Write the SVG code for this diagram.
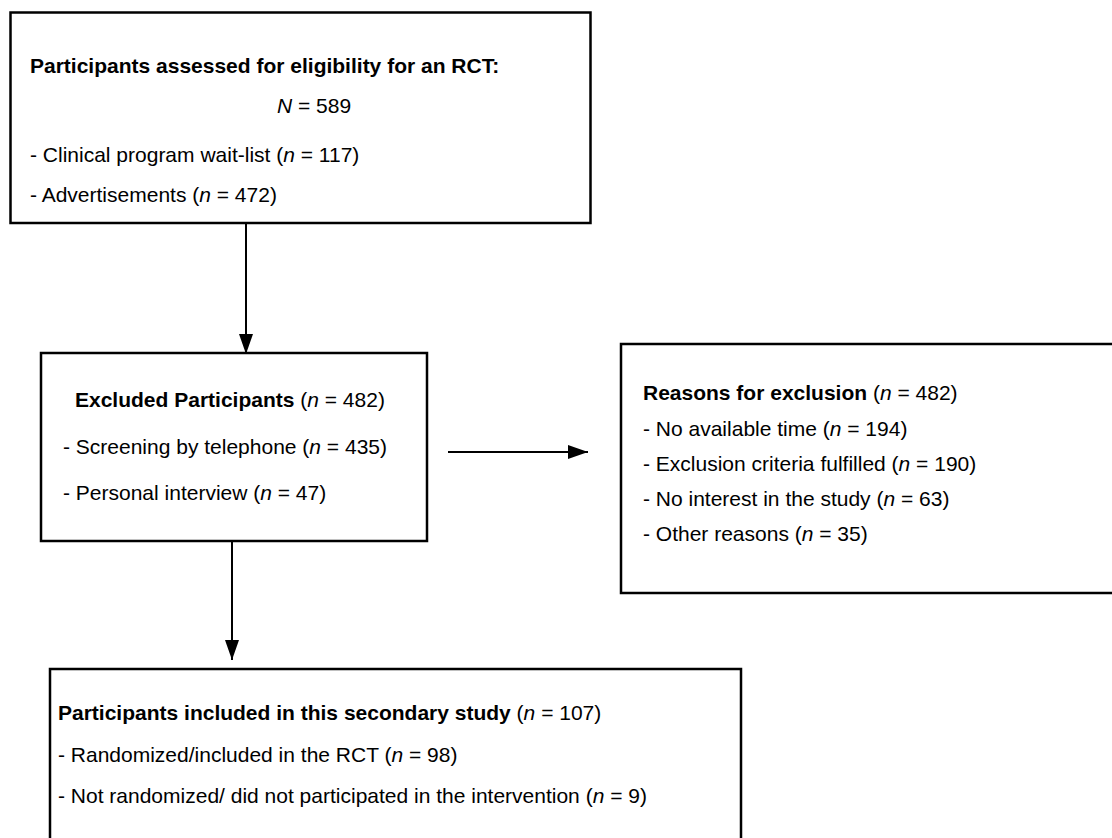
<svg xmlns="http://www.w3.org/2000/svg" width="1112" height="838" viewBox="0 0 1112 838">
<defs>
<style>
.box{fill:#fff;stroke:#000;stroke-width:2.5}
text{font-family:"Liberation Sans",Arial,sans-serif;font-size:21px;fill:#000}
.b{font-weight:bold}
.i{font-style:italic}
.ln{stroke:#000;stroke-width:2;fill:none}
</style>
<marker id="ah" markerWidth="20" markerHeight="14" refX="20" refY="7" orient="auto" markerUnits="userSpaceOnUse">
<path d="M0,0 L20,7 L0,14 Z" fill="#000"/>
</marker>
</defs>
<rect width="1112" height="838" fill="#fff"/>
<g id="connectors">
<line class="ln" x1="246" y1="224" x2="246" y2="354" marker-end="url(#ah)"/>
<line class="ln" x1="448" y1="452" x2="588" y2="452" marker-end="url(#ah)"/>
<line class="ln" x1="232" y1="542" x2="232" y2="660" marker-end="url(#ah)"/>
</g>
<g id="assessed">
<rect class="box" x="10.5" y="12.5" width="580" height="210.5"/>
<text x="30" y="73"><tspan class="b">Participants assessed for eligibility for an RCT:</tspan></text>
<text x="314" y="113" text-anchor="middle"><tspan class="i">N</tspan> = 589</text>
<text x="30" y="162">- Clinical program wait-list (<tspan class="i">n</tspan> = 117)</text>
<text x="30" y="202">- Advertisements (<tspan class="i">n</tspan> = 472)</text>
</g>
<g id="excluded">
<rect class="box" x="41" y="353" width="386" height="188"/>
<text x="75" y="407"><tspan class="b">Excluded Participants</tspan> (<tspan class="i">n</tspan> = 482)</text>
<text x="63" y="454">- Screening by telephone (<tspan class="i">n</tspan> = 435)</text>
<text x="63" y="500">- Personal interview (<tspan class="i">n</tspan> = 47)</text>
</g>
<g id="reasons">
<rect class="box" x="621" y="344" width="500" height="249"/>
<text x="643" y="399.5"><tspan class="b">Reasons for exclusion</tspan> (<tspan class="i">n</tspan> = 482)</text>
<text x="643" y="435.5">- No available time (<tspan class="i">n</tspan> = 194)</text>
<text x="643" y="470.5">- Exclusion criteria fulfilled (<tspan class="i">n</tspan> = 190)</text>
<text x="643" y="505.5">- No interest in the study (<tspan class="i">n</tspan> = 63)</text>
<text x="643" y="540.5">- Other reasons (<tspan class="i">n</tspan> = 35)</text>
</g>
<g id="included">
<rect class="box" x="50" y="669" width="691" height="200"/>
<text x="58" y="720"><tspan class="b">Participants included in this secondary study</tspan> (<tspan class="i">n</tspan> = 107)</text>
<text x="58" y="762">- Randomized/included in the RCT (<tspan class="i">n</tspan> = 98)</text>
<text x="58" y="803">- Not randomized/ did not participated in the intervention (<tspan class="i">n</tspan> = 9)</text>
</g>
</svg>
